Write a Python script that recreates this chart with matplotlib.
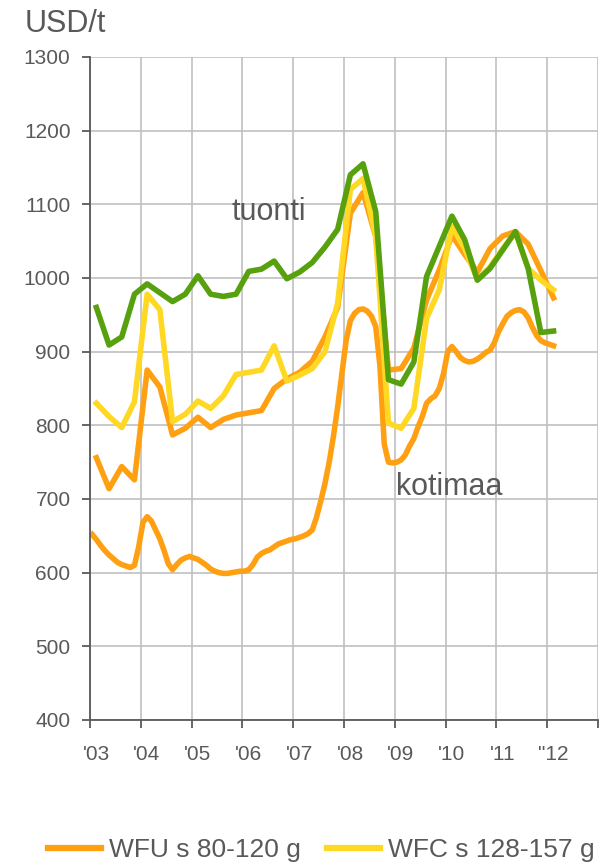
import matplotlib
matplotlib.use("Agg")
import matplotlib.pyplot as plt
from matplotlib.transforms import ScaledTranslation
import numpy as np

plt.rcParams['font.family'] = ['Liberation Sans', 'DejaVu Sans']

# quarterly prices, 2003Q1 .. 2012Q1 (USD/t)
tuonti_green = [960, 909, 920, 978, 992, 980, 968, 978, 1003, 978, 975, 978,
                1009, 1012, 1023, 999, 1008, 1021, 1042, 1066, 1140, 1155, 1090, 862,
                856, 886, 1002, 1043, 1084, 1052, 997, 1013, 1038, 1063, 1013, 926,
                928]
wfc_yellow = [830, 812, 797, 832, 978, 957, 805, 815, 833, 823, 840, 869,
              872, 875, 908, 860, 868, 877, 900, 966, 1120, 1135, 1056, 803,
              796, 823, 945, 984, 1070, 1040, 998, 1015, 1040, 1062, 1013, 997,
              984]
wfu_orange = [756, 714, 744, 726, 875, 852, 787, 796, 811, 797, 808, 814,
              817, 820, 850, 863, 872, 887, 920, 960, 1088, 1116, 1056, 875,
              877, 905, 970, 1011, 1058, 1032, 1008, 1040, 1057, 1063, 1046, 1010,
              973]

# monthly domestic price, Jan 2003 .. Feb 2012
kotimaa = [652, 645, 637, 630, 624, 619, 614, 611, 609, 607, 610, 635,
           668, 676, 670, 658, 646, 630, 612, 604, 611, 617, 620, 622,
           620, 618, 614, 610, 605, 602, 600, 599, 599, 600, 601, 602,
           602, 604, 611, 621, 626, 629, 631, 635, 639, 641, 643, 645,
           646, 648, 650, 653, 658, 675, 697, 721, 750, 785, 825, 870,
           915, 942, 952, 957, 958, 955, 948, 934, 880, 775, 750, 749,
           750, 753, 760, 772, 782, 798, 812, 830, 836, 840, 850, 870,
           900, 907, 900, 892, 888, 886, 887, 890, 894, 899, 902, 912,
           927, 938, 948, 953, 956, 957, 954, 946, 933, 922, 915, 912,
           910, 908]

years = list(range(2003, 2014))
year_labels = ["'03", "'04", "'05", "'06", "'07", "'08", "'09", "'10", "'11", '"12', ""]
legend_labels = ["WFU s 80-120 g", "WFC s 128-157 g"]

x_q = 2003 + 0.125 + 0.25 * np.arange(len(tuonti_green))
x_m = 2003 + (np.arange(len(kotimaa)) + 0.5) / 12

c_orange = '#FFA012'
c_yellow = '#FFD823'
c_green = '#57A00E'
c_text = '#595959'

W, H = 604, 868
fig = plt.figure(figsize=(W / 100, H / 100), dpi=100)
ax = fig.add_axes([90 / W, 1 - 720 / H, (598 - 90) / W, (720 - 57) / H])

lw = 4.0
ax.plot(x_m, kotimaa, color=c_orange, lw=lw, solid_joinstyle='round')
l1, = ax.plot(x_q, wfu_orange, color=c_orange, lw=lw)
l2, = ax.plot(x_q, wfc_yellow, color=c_yellow, lw=lw)
ax.plot(x_q, tuonti_green, color=c_green, lw=lw)

ax.set_xlim(2003, 2013)
ax.set_ylim(400, 1300)
ax.set_yticks(range(400, 1301, 100))
ax.set_xticks(years)
ax.set_xticklabels(year_labels)

ax.grid(True, color='#C0C0C0', lw=1.2)
ax.set_axisbelow(True)
for s in ['top', 'right']:
    ax.spines[s].set_visible(False)
for s in ['left', 'bottom']:
    ax.spines[s].set_color(c_text)
    ax.spines[s].set_linewidth(1.3)
ax.tick_params(axis='both', colors=c_text, labelsize=15, length=6, width=1.3)
ax.tick_params(axis='y', pad=8)
ax.tick_params(axis='x', pad=12)

# labels sit a little right of their ticks
offset = ScaledTranslation(6 / 100, 0, fig.dpi_scale_trans)
for lab in ax.get_xticklabels():
    lab.set_transform(lab.get_transform() + offset)

ax.text(2005.795, 1079, "tuonti", fontsize=22, color=c_text, ha='left', va='baseline')
ax.text(2009.02, 705, "kotimaa", fontsize=22, color=c_text, ha='left', va='baseline')
fig.text(25 / W, 1 - 32 / H, "USD/t", fontsize=22, color=c_text, ha='left', va='baseline')

leg = fig.legend([l1, l2], legend_labels, loc='center', bbox_to_anchor=(321 / W, 1 - 850 / H),
                 ncol=2, frameon=False, fontsize=19, handlelength=2.0, handletextpad=0.3,
                 columnspacing=1.0, labelcolor=c_text)
for h in leg.legend_handles:
    h.set_linewidth(4.5)

fig.savefig("out.png", dpi=100)
